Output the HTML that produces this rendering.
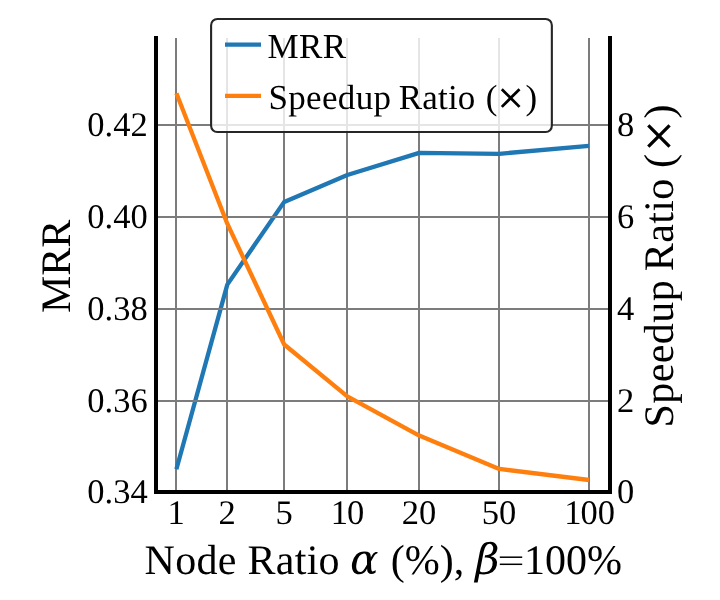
<!DOCTYPE html>
<html><head><meta charset="utf-8"><title>MRR vs Speedup Ratio</title>
<style>html,body{margin:0;padding:0;background:#fff;}body{width:720px;height:600px;overflow:hidden;}svg{display:block;position:absolute;left:0;top:0;will-change:transform;}text{text-rendering:geometricPrecision;font-family:"Liberation Serif",serif;fill:#000;}</style></head><body>
<svg width="720" height="600" viewBox="0 0 720 600">
<rect x="0" y="0" width="720" height="600" fill="#ffffff"/>
<g stroke="#7c7c7c" stroke-width="2" fill="none">
<line x1="176" y1="38" x2="176" y2="492"/>
<line x1="227" y1="38" x2="227" y2="492"/>
<line x1="284" y1="38" x2="284" y2="492"/>
<line x1="347" y1="38" x2="347" y2="492"/>
<line x1="419" y1="38" x2="419" y2="492"/>
<line x1="499" y1="38" x2="499" y2="492"/>
<line x1="589" y1="38" x2="589" y2="492"/>
<line x1="156" y1="125" x2="610" y2="125"/>
<line x1="156" y1="217" x2="610" y2="217"/>
<line x1="156" y1="309" x2="610" y2="309"/>
<line x1="156" y1="401" x2="610" y2="401"/>
</g>
<polyline points="176.4,469.3 227.3,284.6 284.2,201.9 347.3,175.0 419.2,152.9 499.2,153.8 589.0,145.9" fill="none" stroke="#1f77b4" stroke-width="4.3" stroke-linejoin="round" stroke-linecap="butt"/>
<g stroke="#7c7c7c" stroke-width="2" fill="none">
<line x1="156" y1="125" x2="610" y2="125"/>
<line x1="156" y1="217" x2="610" y2="217"/>
<line x1="156" y1="309" x2="610" y2="309"/>
<line x1="156" y1="401" x2="610" y2="401"/>
</g>
<polyline points="176.4,93.25 227.3,223.7 284.2,344.5 347.3,396.3 419.2,435.6 499.2,468.9 589.0,480" fill="none" stroke="#ff7f0e" stroke-width="4.3" stroke-linejoin="round" stroke-linecap="butt"/>
<g stroke="#000" stroke-width="4" stroke-linecap="square" fill="none">
<line x1="156" y1="38" x2="156" y2="492"/>
<line x1="610" y1="38" x2="610" y2="492"/>
<line x1="156" y1="492" x2="610" y2="492"/>
</g>
<g font-size="34.5px" text-anchor="middle">
<text x="176" y="523.5">1</text>
<text x="227" y="523.5">2</text>
<text x="284" y="523.5">5</text>
<text x="347.5" y="523.5">1<tspan dx="-1">0</tspan></text>
<text x="419" y="523.5">20</text>
<text x="499" y="523.5">50</text>
<text x="589.5" y="523.5">1<tspan dx="-1">00</tspan></text>
</g>
<g font-size="34.5px" text-anchor="end">
<text x="147.7" y="503.3">0.34</text>
<text x="147.7" y="412.3">0.36</text>
<text x="147.7" y="320.3">0.38</text>
<text x="147.7" y="228.3">0.40</text>
<text x="147.7" y="136.3">0.42</text>
</g>
<g font-size="34.5px" text-anchor="start">
<text x="617.1" y="503.3">0</text>
<text x="617.1" y="412.3">2</text>
<text x="617.1" y="320.3">4</text>
<text x="617.1" y="228.3">6</text>
<text x="617.1" y="136.3">8</text>
</g>
<rect x="211.1" y="19.05" width="340.75" height="112.9" rx="6.2" ry="6.2" fill="#ffffff" fill-opacity="0.8" stroke="#262626" stroke-width="2.1"/>
<line x1="225" y1="44.7" x2="261" y2="44.7" stroke="#1f77b4" stroke-width="4.3"/>
<line x1="225" y1="95.8" x2="261" y2="95.8" stroke="#ff7f0e" stroke-width="4.3"/>
<text x="267.6" y="58" font-size="35px" textLength="78.4" lengthAdjust="spacing">MRR</text>
<text x="268.5" y="109" font-size="35px" textLength="122.5" lengthAdjust="spacing">Speedup</text>
<text x="398.7" y="109" font-size="35px" textLength="76.6" lengthAdjust="spacing">Ratio</text>
<text x="485.7" y="109" font-size="35px">(</text>
<path transform="translate(496,109) scale(0.017090)" d="M1434 -1104 971 -641 1434 -180 1319 -68 858 -528 397 -68 283 -180 743 -641 283 -1104 397 -1217 858 -756 1319 -1217Z" fill="#000"/>
<text x="525.5" y="109" font-size="35px">)</text>
<text x="144.6" y="574.0" font-size="42px" textLength="195" lengthAdjust="spacing">Node Ratio</text>
<path transform="translate(350.1,573.8) scale(0.020508)" d="M831 -262 770 -151Q723 -66 616 -10Q550 25 444 25Q441 25 438 25Q241 24 148 -130Q86 -233 86 -376Q86 -451 103 -536Q151 -781 305 -941Q450 -1091 695 -1091Q868 -1091 941 -1024Q1006 -964 1010 -836L1011 -799L1071 -910Q1128 -1015 1241 -1067H1342L1330 -1008Q1228 -978 1176 -884L1017 -600L1028 -294Q1033 -137 1068 -120Q1080 -114 1099 -114Q1153 -114 1257 -170L1234 -49Q1123 8 1038 8Q949 8 889 -54Q835 -110 833 -191ZM826 -458 821 -752Q816 -986 678 -987Q564 -987 454 -865Q362 -764 317 -532Q297 -431 297 -353Q297 -260 325 -199Q376 -85 496 -85Q628 -85 763 -340Z" fill="#000"/>
<text x="390.7" y="574.0" font-size="42px">(%),</text>
<path transform="translate(475.2,573.8) scale(0.020508)" d="M228 -129Q297 -70 444 -70Q597 -70 702.5 -158.5Q808 -247 838 -401Q879 -610 805 -700Q730 -793 556 -793H461L482 -900H532Q659 -900 761 -972Q845 -1033 876 -1192Q889 -1261 858 -1340Q806 -1471 713 -1468Q487 -1461 410 -1062ZM-64 426 226 -1062Q307 -1481 542 -1537Q668 -1567 750 -1567Q937 -1567 1028 -1420Q1101 -1304 1081 -1204Q1053 -1062 967 -978Q882 -895 750 -855Q927 -829 1009 -720Q1090 -612 1049.5 -403Q1009 -194 846.5 -82.5Q684 29 420 29Q258 29 202 6L120 426Z" fill="#000"/>
<rect x="499.8" y="556.45" width="22.4" height="1.5" fill="#000"/><rect x="499.8" y="563.55" width="22.4" height="1.5" fill="#000"/>
<text x="524.1" y="574.0" font-size="42px">100%</text>
<text transform="translate(69.5,266.3) rotate(-90)" text-anchor="middle" font-size="42px">MRR</text>
<g transform="translate(673.4,427.55) rotate(-90)">
<text x="0" y="0" font-size="42px" textLength="147.2" lengthAdjust="spacing">Speedup</text>
<text x="156.35" y="0" font-size="42px" textLength="92.4" lengthAdjust="spacing">Ratio</text>
<text x="259.45" y="0" font-size="42px">(</text>
<path transform="translate(273.95,-1.3) scale(0.020508)" d="M1434 -1104 971 -641 1434 -180 1319 -68 858 -528 397 -68 283 -180 743 -641 283 -1104 397 -1217 858 -756 1319 -1217Z" fill="#000"/>
<text x="309.0" y="0" font-size="42px">)</text>
</g>
</svg></body></html>
